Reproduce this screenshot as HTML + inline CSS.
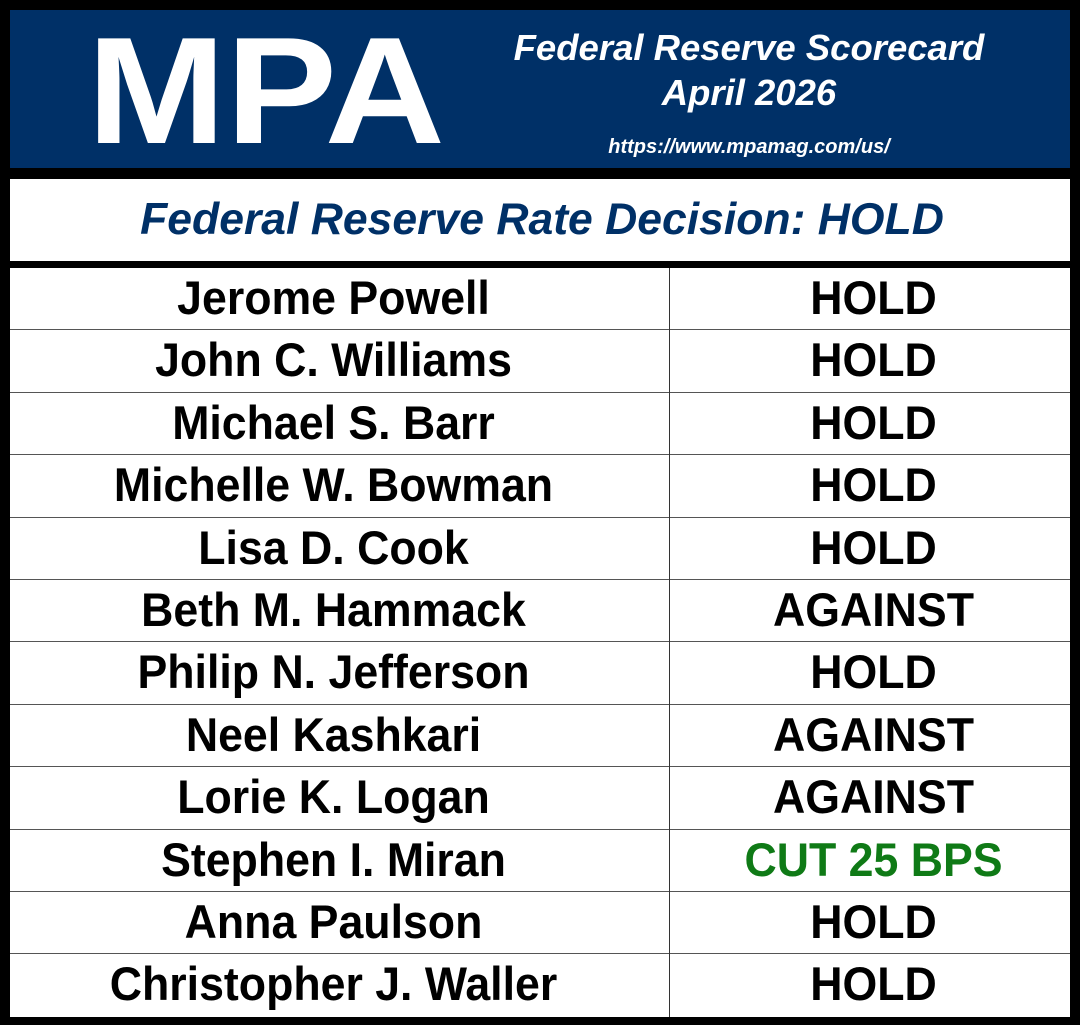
<!DOCTYPE html>
<html><head><meta charset="utf-8"><style>
body{margin:0;width:1080px;height:1025px;background:#000;position:relative;overflow:hidden;font-family:"Liberation Sans",sans-serif}
.hdr{position:absolute;left:10px;top:10px;width:1060px;height:158px;background:#003067}
.t{position:absolute;left:10px;top:179px;width:1060px;height:82px;background:#fff;color:#003067;font-style:italic;font-weight:bold;font-size:44.5px;text-align:center;line-height:82px;text-indent:4px}
.tbl{position:absolute;left:10px;top:268px;width:1060px;height:749px;background:#fff}
.row{position:absolute;left:0;width:1060px;height:62.4px;border-bottom:1px solid #555;box-sizing:border-box;font-family:"Liberation Sans",sans-serif;font-weight:bold;font-size:47px;color:#000}
.row span{position:absolute;top:0;line-height:60px;text-align:center;transform:scaleX(0.95)}
.n{left:-6px;width:659px}.s{left:663px;width:401px}
.vl{position:absolute;left:659px;top:0;width:1px;height:749px;background:#333}
</style></head><body>
<div class="hdr">
<svg width="1060" height="158" style="position:absolute;left:0;top:0">
<text x="256" y="133" fill="#fff" font-family="Liberation Sans" font-weight="bold" font-size="152" text-anchor="middle" textLength="358" lengthAdjust="spacingAndGlyphs">MPA</text>
<text x="739" y="50" fill="#fff" font-family="Liberation Sans" font-weight="bold" font-style="italic" font-size="36.5" text-anchor="middle">Federal Reserve Scorecard</text>
<text x="739" y="95" fill="#fff" font-family="Liberation Sans" font-weight="bold" font-style="italic" font-size="36.5" text-anchor="middle">April 2026</text>
<text x="739" y="143" fill="#fff" font-family="Liberation Sans" font-weight="bold" font-style="italic" font-size="20" text-anchor="middle">https://www.mpamag.com/us/</text>
</svg></div>
<div class="t">Federal Reserve Rate Decision: HOLD</div>
<div class="tbl">
<div class="row" style="top:0"><span class="n">Jerome Powell</span><span class="s">HOLD</span></div>
<div class="row" style="top:62.4px"><span class="n">John C. Williams</span><span class="s">HOLD</span></div>
<div class="row" style="top:124.8px"><span class="n">Michael S. Barr</span><span class="s">HOLD</span></div>
<div class="row" style="top:187.2px"><span class="n">Michelle W. Bowman</span><span class="s">HOLD</span></div>
<div class="row" style="top:249.6px"><span class="n">Lisa D. Cook</span><span class="s">HOLD</span></div>
<div class="row" style="top:312px"><span class="n">Beth M. Hammack</span><span class="s">AGAINST</span></div>
<div class="row" style="top:374.4px"><span class="n">Philip N. Jefferson</span><span class="s">HOLD</span></div>
<div class="row" style="top:436.8px"><span class="n">Neel Kashkari</span><span class="s">AGAINST</span></div>
<div class="row" style="top:499.2px"><span class="n">Lorie K. Logan</span><span class="s">AGAINST</span></div>
<div class="row" style="top:561.6px"><span class="n">Stephen I. Miran</span><span class="s" style="color:#0f7a16">CUT 25 BPS</span></div>
<div class="row" style="top:624px"><span class="n">Anna Paulson</span><span class="s">HOLD</span></div>
<div class="row" style="top:686.4px;border-bottom:none"><span class="n">Christopher J. Waller</span><span class="s">HOLD</span></div>
<div class="vl"></div>
</div>
</body></html>
